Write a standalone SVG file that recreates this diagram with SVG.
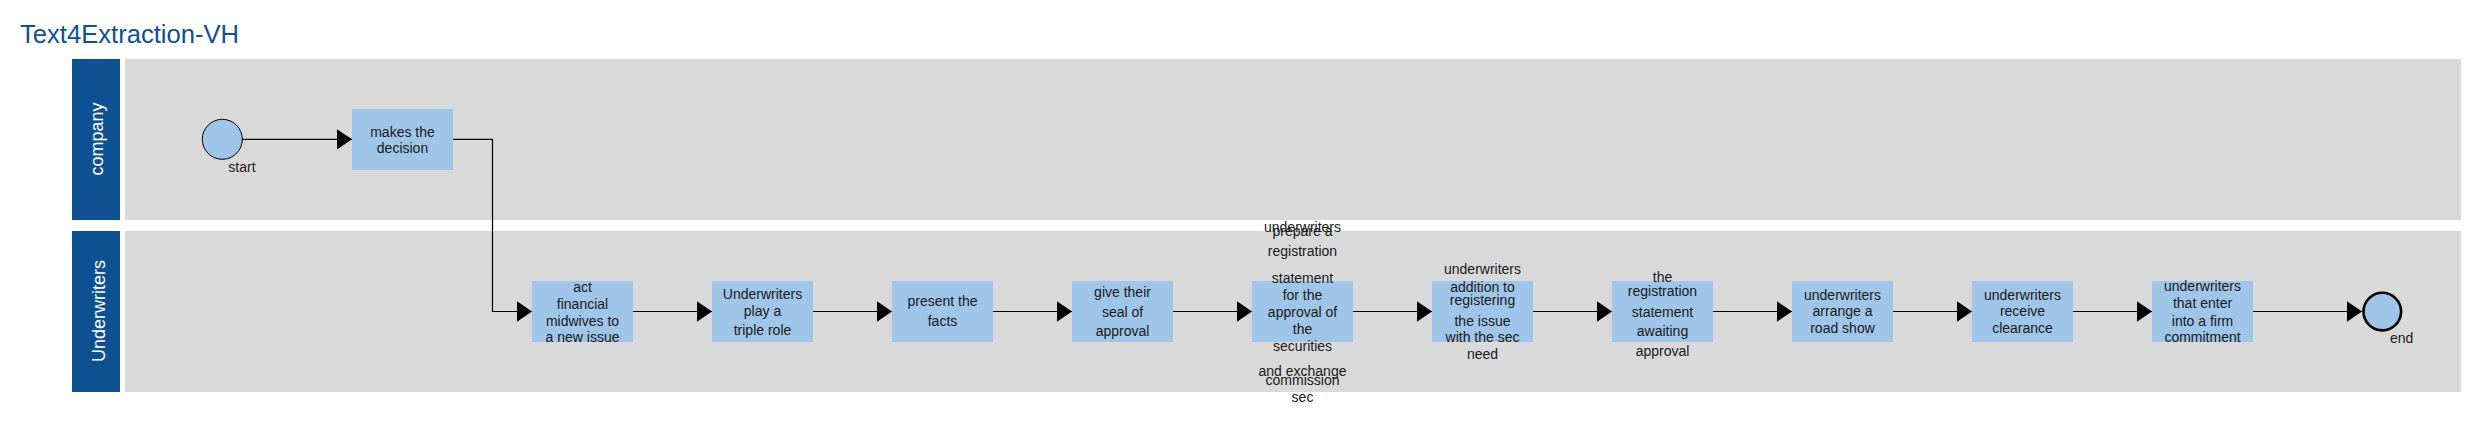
<svg xmlns="http://www.w3.org/2000/svg" width="2479" height="433" viewBox="0 0 2479 433">
<style>
.title{font-family:"Liberation Sans",Arial,sans-serif;font-size:25.6px;fill:#0E5193}
.lanehdr{fill:#0E5193}
.lanebody{fill:#D9D9D9}
.lanelbl{font-family:"Liberation Sans",Arial,sans-serif;font-size:18px;fill:#FFFFFF;text-anchor:middle}
.task{fill:#9FC5E8}
.t{font-family:"Liberation Sans",Arial,sans-serif;font-size:14px;fill:#1A1A1A;text-anchor:middle}
.lbl{font-family:"Liberation Sans",Arial,sans-serif;font-size:14px;fill:#1A1A1A}
.conn{fill:none;stroke:#000;stroke-width:1.2}
</style>
<defs>
<marker id="arr" markerUnits="userSpaceOnUse" markerWidth="16" markerHeight="22" refX="15.5" refY="10.5" orient="auto">
<path d="M0,0 L15.5,10.5 L0,21 Z" fill="#000"/>
</marker>
</defs>
<rect width="2479" height="433" fill="#FFFFFF"/>
<text class="title" x="20" y="43">Text4Extraction-VH</text>

<g id="lane-company">
<rect class="lanehdr" x="72" y="59" width="48" height="161"/>
<rect class="lanebody" x="125" y="59" width="2336" height="161"/>
<text class="lanelbl" transform="translate(102.5,139) rotate(-90)">company</text>
</g>
<g id="lane-underwriters">
<rect class="lanehdr" x="72" y="231" width="48" height="161"/>
<rect class="lanebody" x="125" y="231" width="2336" height="161"/>
<text class="lanelbl" transform="translate(104.5,311) rotate(-90)">Underwriters</text>
</g>

<g id="connectors">
<path class="conn" marker-end="url(#arr)" d="M242,139.3 H352"/>
<path class="conn" marker-end="url(#arr)" d="M453,139.3 H492.5 V311.5 H532"/>
<path class="conn" marker-end="url(#arr)" d="M633,311.5 H712"/>
<path class="conn" marker-end="url(#arr)" d="M813,311.5 H892"/>
<path class="conn" marker-end="url(#arr)" d="M993,311.5 H1072"/>
<path class="conn" marker-end="url(#arr)" d="M1173,311.5 H1252"/>
<path class="conn" marker-end="url(#arr)" d="M1353,311.5 H1432"/>
<path class="conn" marker-end="url(#arr)" d="M1533,311.5 H1612"/>
<path class="conn" marker-end="url(#arr)" d="M1713,311.5 H1792"/>
<path class="conn" marker-end="url(#arr)" d="M1893,311.5 H1972"/>
<path class="conn" marker-end="url(#arr)" d="M2073,311.5 H2152"/>
<path class="conn" marker-end="url(#arr)" d="M2253,311.5 H2362"/>
</g>

<g id="start">
<circle cx="222.3" cy="139.3" r="20" fill="#9FC5E8" stroke="#000" stroke-width="1"/>
<text class="lbl" x="228.3" y="171.7">start</text>
</g>

<g id="makes-decision">
<rect class="task" x="352" y="109" width="101" height="61"/>
<text class="t" x="402.5" y="136.7">makes the</text>
<text class="t" x="402.5" y="153.3">decision</text>
</g>

<g id="act-financial-midwives">
<rect class="task" x="532" y="281" width="101" height="61"/>
<text class="t" x="582.5" y="291.7">act</text>
<text class="t" x="582.5" y="309">financial</text>
<text class="t" x="582.5" y="325.7">midwives to</text>
<text class="t" x="582.5" y="342.3">a new issue</text>
</g>

<g id="triple-role">
<rect class="task" x="712" y="281" width="101" height="61"/>
<text class="t" x="762.5" y="299.3">Underwriters</text>
<text class="t" x="762.5" y="315.7">play a</text>
<text class="t" x="762.5" y="335">triple role</text>
</g>

<g id="present-facts">
<rect class="task" x="892" y="281" width="101" height="61"/>
<text class="t" x="942.5" y="306">present the</text>
<text class="t" x="942.5" y="326">facts</text>
</g>

<g id="seal-of-approval">
<rect class="task" x="1072" y="281" width="101" height="61"/>
<text class="t" x="1122.5" y="297.3">give their</text>
<text class="t" x="1122.5" y="317.3">seal of</text>
<text class="t" x="1122.5" y="336">approval</text>
</g>

<g id="prepare-registration">
<rect class="task" x="1252" y="281" width="101" height="61"/>
<text class="t" x="1302.5" y="231.7">underwriters</text>
<text class="t" x="1302.5" y="235.7">prepare a</text>
<text class="t" x="1302.5" y="255.7">registration</text>
<text class="t" x="1302.5" y="282.7">statement</text>
<text class="t" x="1302.5" y="300">for the</text>
<text class="t" x="1302.5" y="316.7">approval of</text>
<text class="t" x="1302.5" y="334">the</text>
<text class="t" x="1302.5" y="351">securities</text>
<text class="t" x="1302.5" y="375.7">and exchange</text>
<text class="t" x="1302.5" y="385">commission</text>
<text class="t" x="1302.5" y="401.7">sec</text>
</g>

<g id="registering-issue">
<rect class="task" x="1432" y="281" width="101" height="61"/>
<text class="t" x="1482.5" y="274.3">underwriters</text>
<text class="t" x="1482.5" y="291.7">addition to</text>
<text class="t" x="1482.5" y="305">registering</text>
<text class="t" x="1482.5" y="325.7">the issue</text>
<text class="t" x="1482.5" y="342.3">with the sec</text>
<text class="t" x="1482.5" y="359">need</text>
</g>

<g id="statement-awaiting">
<rect class="task" x="1612" y="281" width="101" height="61"/>
<text class="t" x="1662.5" y="282.3">the</text>
<text class="t" x="1662.5" y="295.7">registration</text>
<text class="t" x="1662.5" y="316.7">statement</text>
<text class="t" x="1662.5" y="335.7">awaiting</text>
<text class="t" x="1662.5" y="355.7">approval</text>
</g>

<g id="road-show">
<rect class="task" x="1792" y="281" width="101" height="61"/>
<text class="t" x="1842.5" y="300">underwriters</text>
<text class="t" x="1842.5" y="316">arrange a</text>
<text class="t" x="1842.5" y="333.3">road show</text>
</g>

<g id="receive-clearance">
<rect class="task" x="1972" y="281" width="101" height="61"/>
<text class="t" x="2022.5" y="300">underwriters</text>
<text class="t" x="2022.5" y="316">receive</text>
<text class="t" x="2022.5" y="333.3">clearance</text>
</g>

<g id="firm-commitment">
<rect class="task" x="2152" y="281" width="101" height="61"/>
<text class="t" x="2202.5" y="291">underwriters</text>
<text class="t" x="2202.5" y="308.3">that enter</text>
<text class="t" x="2202.5" y="325.7">into a firm</text>
<text class="t" x="2202.5" y="342.3">commitment</text>
</g>

<g id="end">
<circle cx="2382.3" cy="311.6" r="18.8" fill="#9FC5E8" stroke="#000" stroke-width="2.6"/>
<text class="lbl" x="2390" y="342.7">end</text>
</g>
</svg>
